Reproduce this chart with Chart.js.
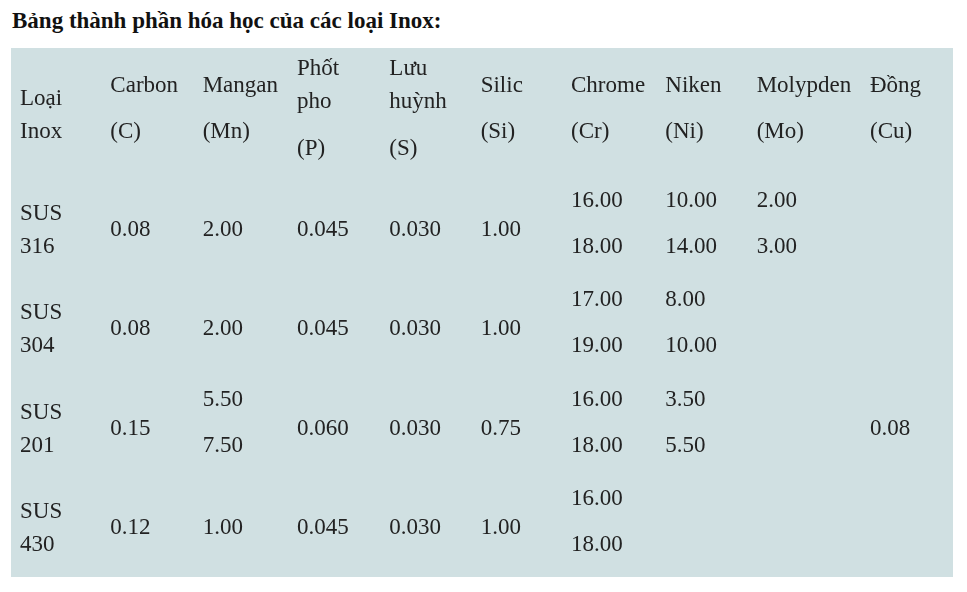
<!DOCTYPE html>
<html>
<head>
<meta charset="utf-8">
<script src="https://cdn.jsdelivr.net/npm/chart.js@4/dist/chart.umd.min.js"></script>
<style>
  body { margin: 0; background: #fff; }
  #title { position: absolute; left: 12px; top: 8px; margin: 0; font: bold 23px "Liberation Serif", serif; color: #111; }
  canvas { position: absolute; left: 0; top: 0; }
</style>
</head>
<body>
<h3 id="title">Bảng thành phần hóa học của các loại Inox:</h3>
<canvas id="bang" width="967" height="592"></canvas>
<script>
// cột và hàng của bảng
const headers = [
  ["Loại", "Inox"],
  ["Carbon", "(C)"],
  ["Mangan", "(Mn)"],
  ["Phốt", "pho", "(P)"],
  ["Lưu", "huỳnh", "(S)"],
  ["Silic", "(Si)"],
  ["Chrome", "(Cr)"],
  ["Niken", "(Ni)"],
  ["Molypden", "(Mo)"],
  ["Đồng", "(Cu)"]
];
const columns = headers.map(h => h.join(" "));
const rows = ["SUS 316", "SUS 304", "SUS 201", "SUS 430"];

// giá trị từng cột, "a-b" là khoảng
const carbon = ["0.08", "0.08", "0.15", "0.12"];
const mangan = ["2.00", "2.00", "5.50-7.50", "1.00"];
const photpho = ["0.045", "0.045", "0.060", "0.045"];
const luuhuynh = ["0.030", "0.030", "0.030", "0.030"];
const silic = ["1.00", "1.00", "0.75", "1.00"];
const chrome = ["16.00-18.00", "17.00-19.00", "16.00-18.00", "16.00-18.00"];
const niken = ["10.00-14.00", "8.00-10.00", "3.50-5.50", ""];
const molypden = ["2.00-3.00", "", "", ""];
const dong = ["", "", "0.08", ""];

const valueCols = [rows, carbon, mangan, photpho, luuhuynh, silic, chrome, niken, molypden, dong];

const points = [];
valueCols.forEach((col, ci) => {
  col.forEach((v, ri) => {
    if (v !== "") points.push({ x: columns[ci], y: rows[ri], text: v });
  });
});

const tablePlugin = {
  id: "tablePlugin",
  beforeDraw(chart) {
    const ctx = chart.ctx;
    ctx.save();
    ctx.fillStyle = "#d0e0e2";
    ctx.fillRect(11, 48, 942, 529);
    ctx.restore();
  },
  afterDatasetsDraw(chart) {
    const ctx = chart.ctx;
    const xs = chart.scales.x;
    ctx.save();
    ctx.font = '23px "Liberation Serif", serif';
    ctx.fillStyle = "#222";
    ctx.textAlign = "left";
    ctx.textBaseline = "middle";
    // column widths in the original are uneven
    const shift = [0, -6, -10, -12, -16, -21, -27, -29, -34, -17];
    headers.forEach((lines, ci) => {
      const x = xs.getPixelForValue(ci) + shift[ci];
      let ys;
      if (lines.length === 3) ys = [69, 102, 149];
      else if (ci === 0) ys = [99, 132];
      else ys = [86, 132];
      lines.forEach((t, i) => ctx.fillText(t, x, ys[i]));
    });
    chart.data.datasets[0].data.forEach(p => {
      const ci = columns.indexOf(p.x);
      const x = xs.getPixelForValue(ci) + shift[ci];
      const y = chart.scales.y.getPixelForValue(rows.indexOf(p.y)) + 1;
      if (ci === 0) {
        const parts = p.text.split(" ");
        ctx.fillText(parts[0], x, y - 16);
        ctx.fillText(parts[1], x, y + 17);
      } else if (p.text.includes("-")) {
        const parts = p.text.split("-");
        ctx.fillText(parts[0], x, y - 29);
        ctx.fillText(parts[1], x, y + 17);
      } else {
        ctx.fillText(p.text, x, y);
      }
    });
    ctx.restore();
  }
};

new Chart(document.getElementById("bang"), {
  type: "scatter",
  data: { datasets: [{ data: points, pointRadius: 0, pointHoverRadius: 0 }] },
  options: {
    responsive: false,
    animation: false,
    layout: { padding: { left: 20, right: 80, top: 229, bottom: 65 } },
    plugins: { legend: { display: false }, tooltip: { enabled: false } },
    scales: {
      x: { type: "category", labels: columns, offset: false, display: false },
      y: { type: "category", labels: rows, offset: false, display: false }
    }
  },
  plugins: [tablePlugin]
});
</script>
</body>
</html>
